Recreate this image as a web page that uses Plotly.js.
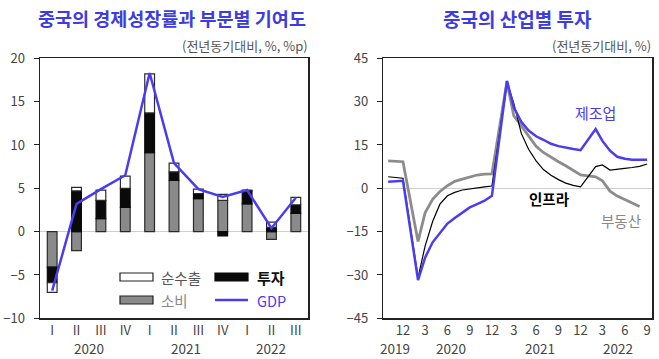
<!DOCTYPE html>
<html><head><meta charset="utf-8">
<script src="https://cdn.plot.ly/plotly-3.0.1.min.js"></script>
<style>html,body{margin:0;padding:0;background:#fff}#chart{width:659px;height:359px}</style>
</head><body><div id="chart"></div>
<script>
// ---- Left chart: GDP growth contributions (quarterly) ----
const qYears = ['2020','2020','2020','2020','2021','2021','2021','2021','2022','2022','2022'];
const qLabels = ['I','II','III','IV','I','II','III','IV','I','II','III'];
const consumption = [-4.1, -2.2, 1.5, 2.8, 9.1, 5.9, 3.8, 3.6, 3.2, -0.9, 2.1];
const investment  = [-1.8, 4.7, 2.1, 2.2, 4.6, 1.0, 0.6, -0.5, 1.5, 0.5, 1.0];
const netExports  = [-1.1, 0.4, 1.2, 1.4, 4.5, 1.0, 0.5, 0.7, 0.1, 0.6, 0.85];
const gdp         = [-6.8, 3.2, 4.9, 6.5, 18.3, 7.9, 4.9, 4.0, 4.8, 0.4, 3.9];
const quarterYearLabels = ['2020','2021','2022'];

// ---- Right chart: fixed asset investment by sector (YTD, yoy %) ----
const months = ['2019-10-01','2019-11-01','2019-12-01',
  '2020-02-01','2020-03-01','2020-04-01','2020-05-01','2020-06-01','2020-07-01','2020-08-01','2020-09-01','2020-10-01','2020-11-01','2020-12-01',
  '2021-02-01','2021-03-01','2021-04-01','2021-05-01','2021-06-01','2021-07-01','2021-08-01','2021-09-01','2021-10-01','2021-11-01','2021-12-01',
  '2022-02-01','2022-03-01','2022-04-01','2022-05-01','2022-06-01','2022-07-01','2022-08-01','2022-09-01'];
const manufacturing = [2.3, 2.4, 2.6,
  -31.8, -24.0, -18.7, -15.3, -12.2, -10.3, -8.4, -6.6, -5.5, -4.3, -2.6,
  37.2, 28.0, 23.0, 20.0, 18.0, 16.8, 15.4, 14.6, 14.0, 13.6, 13.2,
  20.5, 16.4, 13.0, 10.9, 10.2, 9.9, 9.8, 9.9];
const infrastructure = [4.0, 3.8, 3.5,
  -30.9, -20.0, -11.5, -5.5, -2.6, -1.4, -0.6, -0.2, 0.3, 0.5, 0.8,
  36.6, 29.5, 19.0, 13.5, 9.5, 6.5, 4.5, 3.0, 1.8, 1.0, 0.5,
  7.5, 8.1, 6.3, 6.5, 6.9, 7.2, 7.6, 8.4];
const realEstate = [9.5, 9.4, 9.2,
  -18.4, -8.5, -3.8, -1.1, 0.9, 2.4, 3.2, 4.0, 4.6, 4.9, 5.0,
  37.0, 25.1, 21.6, 18.2, 14.5, 12.4, 10.7, 9.2, 7.8, 6.2, 4.6,
  4.0, 2.6, -1.0, -2.7, -3.9, -5.0, -6.3, null];
const monthTickVals = ['2019-12-01','2020-03-01','2020-06-01','2020-09-01','2020-12-01','2021-03-01','2021-06-01','2021-09-01','2021-12-01','2022-03-01','2022-06-01','2022-09-01'];
const monthTickText = ['12','3','6','9','12','3','6','9','12','3','6','9'];
const yearLabels = ['2019','2020','2021','2022'];
const yearLabelPos = ['2019-10-29','2020-06-16','2021-06-15','2022-05-04'];

const W = 659, H = 359;
const px = x => x / W;
const py = y => 1 - y / H;
const FONT = '"Noto Sans CJK KR", "Noto Sans", sans-serif';
const BLUE = '#4a3cf0';
const TITLE_BLUE = '#3c3ce0';
const qKeys = qYears.map((y, i) => y + ' ' + qLabels[i]);

const traces = [
  {type:'bar', x:qKeys, y:consumption, name:'소비', xaxis:'x', yaxis:'y',
   marker:{color:'#8a8a8a', line:{color:'#2a2a2a', width:1.2}}, width:0.4, showlegend:false},
  {type:'bar', x:qKeys, y:investment, name:'투자', xaxis:'x', yaxis:'y',
   marker:{color:'#0a0a0a', line:{color:'#0a0a0a', width:1.2}}, width:0.4, showlegend:false},
  {type:'bar', x:qKeys, y:netExports, name:'순수출', xaxis:'x', yaxis:'y',
   marker:{color:'#ffffff', line:{color:'#2a2a2a', width:1.2}}, width:0.4, showlegend:false},
  {type:'scatter', mode:'lines', x:qKeys, y:gdp, name:'GDP', xaxis:'x', yaxis:'y',
   line:{color:BLUE, width:2.5}, showlegend:false},
  {type:'scatter', mode:'lines', x:months, y:realEstate, name:'부동산', xaxis:'x2', yaxis:'y2',
   line:{color:'#8c8c8c', width:2.8}, showlegend:false},
  {type:'scatter', mode:'lines', x:months, y:infrastructure, name:'인프라', xaxis:'x2', yaxis:'y2',
   line:{color:'#000000', width:1.2}, showlegend:false},
  {type:'scatter', mode:'lines', x:months, y:manufacturing, name:'제조업', xaxis:'x2', yaxis:'y2',
   line:{color:BLUE, width:2.5}, showlegend:false}
];

const tickFont = {family:FONT, size:13, color:'#444'};
const yDomain = [py(318.3), py(58.3)];

const annotations = [
  {xref:'paper', yref:'paper', x:px(171.5), y:py(18), text:'<b>중국의 경제성장률과 부문별 기여도</b>', showarrow:false,
   xanchor:'center', yanchor:'middle', font:{family:FONT, size:18.5, color:TITLE_BLUE}},
  {xref:'paper', yref:'paper', x:px(310), y:py(45), text:'(전년동기대비, %, %p)', showarrow:false,
   xanchor:'right', yanchor:'middle', font:{family:FONT, size:13, color:'#555'}},
  {xref:'paper', yref:'paper', x:px(517.5), y:py(18), text:'<b>중국의 산업별 투자</b>', showarrow:false,
   xanchor:'center', yanchor:'middle', font:{family:FONT, size:19, color:TITLE_BLUE}},
  {xref:'paper', yref:'paper', x:px(653), y:py(45), text:'(전년동기대비, %)', showarrow:false,
   xanchor:'right', yanchor:'middle', font:{family:FONT, size:13, color:'#555'}},
  // left legend labels
  {xref:'paper', yref:'paper', x:px(159), y:py(277), text:'순수출', showarrow:false, xanchor:'left', yanchor:'middle',
   font:{family:FONT, size:14.5, color:'#555'}},
  {xref:'paper', yref:'paper', x:px(255), y:py(277), text:'<b>투자</b>', showarrow:false, xanchor:'left', yanchor:'middle',
   font:{family:FONT, size:15, color:'#111'}},
  {xref:'paper', yref:'paper', x:px(159), y:py(300), text:'소비', showarrow:false, xanchor:'left', yanchor:'middle',
   font:{family:FONT, size:14.5, color:'#888'}},
  {xref:'paper', yref:'paper', x:px(255), y:py(300), text:'GDP', showarrow:false, xanchor:'left', yanchor:'middle',
   font:{family:FONT, size:14.5, color:BLUE}},
  // right series labels
  {xref:'paper', yref:'paper', x:px(595), y:py(112.5), text:'제조업', showarrow:false, xanchor:'center', yanchor:'middle',
   font:{family:FONT, size:15, color:BLUE}},
  {xref:'paper', yref:'paper', x:px(549), y:py(199), text:'<b>인프라</b>', showarrow:false, xanchor:'center', yanchor:'middle',
   font:{family:FONT, size:14.5, color:'#000'}},
  {xref:'paper', yref:'paper', x:px(621), y:py(220), text:'부동산', showarrow:false, xanchor:'center', yanchor:'middle',
   font:{family:FONT, size:14.5, color:'#888'}}
];
// year labels under the quarter ticks (centred on each year's quarters)
quarterYearLabels.forEach(yr => {
  const idx = qYears.map((v, i) => v === yr ? i : -1).filter(i => i >= 0);
  const mid = (idx[0] + idx[idx.length - 1]) / 2;
  annotations.push({xref:'x', yref:'paper', x:mid, y:py(347.5), text:yr, showarrow:false,
    xanchor:'center', yanchor:'middle', font:{family:FONT, size:13.5, color:'#444'}});
});
yearLabels.forEach((t, i) => annotations.push({
  xref:'x2', yref:'paper', x:yearLabelPos[i], y:py(347.5), text:t, showarrow:false,
  xanchor:'center', yanchor:'middle', font:{family:FONT, size:13.5, color:'#444'}
}));

const shapes = [
  {type:'rect', xref:'paper', yref:'paper', x0:px(120), x1:px(153), y0:py(281), y1:py(273),
   fillcolor:'#fff', line:{color:'#222', width:1.2}},
  {type:'rect', xref:'paper', yref:'paper', x0:px(215), x1:px(248), y0:py(281), y1:py(273),
   fillcolor:'#0a0a0a', line:{color:'#0a0a0a', width:1.2}},
  {type:'rect', xref:'paper', yref:'paper', x0:px(120), x1:px(153), y0:py(304), y1:py(296),
   fillcolor:'#8a8a8a', line:{color:'#222', width:1.2}},
  {type:'line', xref:'paper', yref:'paper', x0:px(215), x1:px(248), y0:py(300), y1:py(300),
   line:{color:BLUE, width:2.5}}
];

const layout = {
  width:W, height:H, margin:{l:0, r:0, t:0, b:0},
  paper_bgcolor:'#fff', plot_bgcolor:'#fff',
  barmode:'relative', bargap:0.6, showlegend:false,
  font:{family:FONT, color:'#444'},
  xaxis:{type:'category', domain:[px(40), px(308)], range:[-0.5, 10.5],
    tickmode:'array', tickvals:qKeys, ticktext:qLabels,
    showline:true, mirror:true, linecolor:'#222', linewidth:1.5, ticks:'', showgrid:false,
    tickfont:tickFont, automargin:false, zeroline:false},
  yaxis:{domain:yDomain, range:[-10, 20], dtick:5, tick0:0, showline:true, mirror:true,
    linecolor:'#222', linewidth:1.5, ticks:'outside', ticklen:5, tickcolor:'#222',
    ticklabelstandoff:6, showgrid:false, zeroline:true, zerolinecolor:'#cfcfcf', zerolinewidth:1,
    tickfont:tickFont, automargin:false},
  xaxis2:{type:'date', domain:[px(383.3), px(652)], range:['2019-09-11','2022-09-21'],
    tickmode:'array', tickvals:monthTickVals, ticktext:monthTickText,
    showline:true, mirror:true, linecolor:'#222', linewidth:1.5, ticks:'', showgrid:false,
    tickfont:tickFont, automargin:false, anchor:'y2', zeroline:false},
  yaxis2:{domain:yDomain, range:[-45, 45], dtick:15, tick0:0, showline:true, mirror:true,
    linecolor:'#222', linewidth:1.5, ticks:'outside', ticklen:5, tickcolor:'#222',
    ticklabelstandoff:6, showgrid:false, zeroline:true, zerolinecolor:'#cfcfcf', zerolinewidth:1,
    tickfont:tickFont, automargin:false, anchor:'x2'},
  annotations:annotations, shapes:shapes
};

Plotly.newPlot('chart', traces, layout, {displayModeBar:false, staticPlot:true});
</script>
</body></html>
